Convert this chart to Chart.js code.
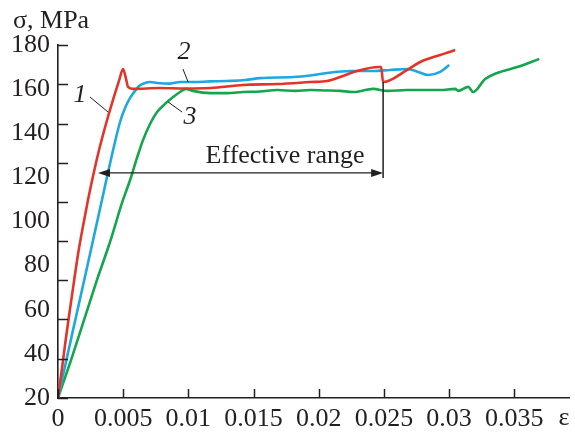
<!DOCTYPE html>
<html>
<head>
<meta charset="utf-8">
<script src="https://cdn.jsdelivr.net/npm/chart.js@4/dist/chart.umd.min.js"></script>
<style>
  html, body { margin: 0; padding: 0; background: #fff; }
  #wrap { width: 575px; height: 434px; position: relative; }
</style>
</head>
<body>
<div id="wrap"><canvas id="c" width="575" height="434"></canvas></div>
<script>
// ---- Data (strain ε, stress σ in MPa) ----
const curve1Strain = [0, 0.00031, 0.00061, 0.00092, 0.00123, 0.00154, 0.00192, 0.00230, 0.00269, 0.00315, 0.00368, 0.00422, 0.00468, 0.00499, 0.00522, 0.00537, 0.00576, 0.00783, 0.00975, 0.01167, 0.01420, 0.01681, 0.01934, 0.02065, 0.02164, 0.02295, 0.02456, 0.02479, 0.02494, 0.02679, 0.02778, 0.02932, 0.03047];
const curve1Stress = [20, 33.6, 47.2, 60.3, 73.0, 85.3, 98.0, 109.7, 120.6, 132.4, 144.2, 155.1, 163.7, 169.1, 164.6, 161.0, 160.1, 160.5, 160.3, 160.5, 161.9, 162.3, 163.2, 163.7, 165.5, 168.2, 170.0, 170.0, 163.2, 168.7, 172.3, 175.5, 177.7];

const curve2Strain = [0, 0.00107, 0.00215, 0.00322, 0.00430, 0.00476, 0.00514, 0.00553, 0.00591, 0.00622, 0.00668, 0.00706, 0.00760, 0.00860, 0.00936, 0.01036, 0.01167, 0.01297, 0.01435, 0.01550, 0.01804, 0.01934, 0.02065, 0.02241, 0.02418, 0.02548, 0.02679, 0.02763, 0.02840, 0.02932, 0.03001];
const curve2Stress = [20, 48.6, 77.1, 105.7, 134.2, 145.1, 151.4, 156.0, 159.2, 161.4, 162.8, 163.2, 162.8, 162.5, 163.2, 163.2, 163.5, 163.7, 164.1, 165.0, 165.5, 166.2, 167.3, 168.2, 168.2, 168.7, 169.1, 167.8, 166.4, 167.8, 170.9];

const curve3Strain = [0, 0.00100, 0.00200, 0.00299, 0.00399, 0.00491, 0.00553, 0.00606, 0.00652, 0.00706, 0.00760, 0.00821, 0.00883, 0.00936, 0.00982, 0.01036, 0.01167, 0.01297, 0.01420, 0.01550, 0.01681, 0.01819, 0.01934, 0.02049, 0.02164, 0.02264, 0.02418, 0.02525, 0.02679, 0.02932, 0.03047, 0.03070, 0.03147, 0.03185, 0.03277, 0.03369, 0.03523, 0.03692];
const curve3Stress = [20, 37.2, 55.4, 73.5, 90.7, 108.4, 118.8, 128.8, 136.9, 144.2, 149.6, 153.3, 156.4, 158.7, 160.1, 159.2, 158.2, 158.2, 158.7, 158.9, 159.6, 159.2, 159.6, 159.4, 159.2, 158.7, 160.1, 159.2, 159.6, 159.6, 160.1, 159.2, 161.0, 158.7, 164.6, 167.3, 170.0, 173.7];

// ---- Axis ticks ----
const xTicks = [0, 0.005, 0.01, 0.015, 0.02, 0.025, 0.03, 0.035];
const xTickLabels = ["0", "0.005", "0.01", "0.015", "0.02", "0.025", "0.03", "0.035"];
const yTicks = [20, 40, 60, 80, 100, 120, 140, 160, 180];
const yTickLabels = ["20", "40", "60", "80", "100", "120", "140", "160", "180"];
const yTickMarks = [20, 37.8, 55.6, 73.3, 91.1, 108.9, 126.7, 144.4, 162.2, 180];

// ---- Annotations (data units) ----
const rangeArrow = { from: 0.00307, to: 0.02494, stress: 122.0 };
const rangeLine = { strain: 0.02494, top: 163.2, bottom: 119.7 };
const rangeText = { text: "Effective range", strain: 0.01742, stress: 126.5 };
const curveLabels = [
  { text: "1", strain: 0.00169, stress: 157.3, lead: [[0.00246, 156.4], [0.00384, 149.6]] },
  { text: "2", strain: 0.00967, stress: 176.8, lead: [[0.00959, 169.1], [0.00998, 163.2]] },
  { text: "3", strain: 0.01013, stress: 147.4, lead: [[0.00844, 154.2], [0.00952, 149.6]] }
];

const toPts = (xs, ys) => xs.map((x, i) => ({ x: x, y: ys[i] }));

const SERIF = '"Liberation Serif", "Times New Roman", serif';
const FS = 26;
const INK = '#231f20';

const annotate = {
  id: 'annotate',
  afterDraw(chart) {
    const ctx = chart.ctx;
    const xs = chart.scales.x, ys = chart.scales.y;
    const ca = chart.chartArea;
    ctx.save();
    // inward tick marks
    ctx.strokeStyle = INK; ctx.lineWidth = 1.5;
    xTicks.forEach(v => {
      const px = Math.round(xs.getPixelForValue(v)) + 0.5;
      ctx.beginPath(); ctx.moveTo(px, ca.bottom); ctx.lineTo(px, ca.bottom - 9); ctx.stroke();
    });
    yTickMarks.forEach(v => {
      const py = Math.round(ys.getPixelForValue(v)) + 0.5;
      ctx.beginPath(); ctx.moveTo(ca.left, py); ctx.lineTo(ca.left + 10, py); ctx.stroke();
    });
    // axis titles
    ctx.fillStyle = INK;
    ctx.font = FS + 'px ' + SERIF;
    ctx.textAlign = 'left'; ctx.textBaseline = 'alphabetic';
    ctx.fillText('σ, MPa', 13, 28);
    ctx.textAlign = 'center';
    ctx.fillText('ε', 564, 425);
    // effective range arrow
    ctx.lineWidth = 1.2; ctx.strokeStyle = INK;
    const ay = ys.getPixelForValue(rangeArrow.stress);
    const ax1 = xs.getPixelForValue(rangeArrow.from), ax2 = xs.getPixelForValue(rangeArrow.to);
    ctx.beginPath(); ctx.moveTo(ax1 + 8, ay); ctx.lineTo(ax2 - 8, ay); ctx.stroke();
    ctx.beginPath(); ctx.moveTo(ax1, ay); ctx.lineTo(ax1 + 12, ay - 4); ctx.lineTo(ax1 + 12, ay + 4); ctx.closePath(); ctx.fill();
    ctx.beginPath(); ctx.moveTo(ax2, ay); ctx.lineTo(ax2 - 12, ay - 4); ctx.lineTo(ax2 - 12, ay + 4); ctx.closePath(); ctx.fill();
    const lx = xs.getPixelForValue(rangeLine.strain);
    ctx.lineWidth = 1.5;
    ctx.beginPath(); ctx.moveTo(lx, ys.getPixelForValue(rangeLine.top)); ctx.lineTo(lx, ys.getPixelForValue(rangeLine.bottom)); ctx.stroke();
    ctx.font = FS + 'px ' + SERIF;
    ctx.textAlign = 'center'; ctx.textBaseline = 'alphabetic';
    ctx.fillText(rangeText.text, xs.getPixelForValue(rangeText.strain), ys.getPixelForValue(rangeText.stress));
    // curve labels
    ctx.font = 'italic ' + FS + 'px ' + SERIF;
    ctx.textBaseline = 'middle';
    ctx.lineWidth = 1;
    curveLabels.forEach(l => {
      ctx.fillText(l.text, xs.getPixelForValue(l.strain), ys.getPixelForValue(l.stress));
      ctx.beginPath();
      ctx.moveTo(xs.getPixelForValue(l.lead[0][0]), ys.getPixelForValue(l.lead[0][1]));
      ctx.lineTo(xs.getPixelForValue(l.lead[1][0]), ys.getPixelForValue(l.lead[1][1]));
      ctx.stroke();
    });
    ctx.restore();
  }
};

const lineDs = (label, xs, ys, color) => ({
  label: label,
  data: toPts(xs, ys),
  borderColor: color,
  backgroundColor: color,
  borderWidth: 2.6,
  pointRadius: 0,
  showLine: true,
  fill: false,
  cubicInterpolationMode: 'monotone'
});

new Chart(document.getElementById('c'), {
  type: 'scatter',
  data: {
    datasets: [
      lineDs('1', curve1Strain, curve1Stress, '#e3342a'),
      lineDs('2', curve2Strain, curve2Stress, '#1da8e0'),
      lineDs('3', curve3Strain, curve3Stress, '#14a64c')
    ]
  },
  options: {
    responsive: false,
    animation: false,
    devicePixelRatio: 1,
    layout: { padding: { left: 0, right: 6, top: 45, bottom: 0 } },
    plugins: { legend: { display: false }, title: { display: false }, tooltip: { enabled: false } },
    scales: {
      x: {
        type: 'linear', min: 0, max: 0.0392,
        afterBuildTicks: s => { s.ticks = xTicks.map(v => ({ value: v })); },
        afterFit: s => { s.height = 36; },
        grid: { display: false, drawTicks: false },
        border: { display: true, color: INK, width: 1.6 },
        ticks: {
          padding: 6, color: INK, maxRotation: 0, autoSkip: false,
          font: { family: SERIF, size: FS },
          callback: (v) => { const i = xTicks.indexOf(v); return i >= 0 ? xTickLabels[i] : ''; }
        }
      },
      y: {
        type: 'linear', min: 20, max: 180,
        afterBuildTicks: s => { s.ticks = yTicks.map(v => ({ value: v })); },
        afterFit: s => { s.width = 58; },
        grid: { display: false, drawTicks: false },
        border: { display: true, color: INK, width: 1.6 },
        ticks: {
          padding: 8, color: INK, autoSkip: false,
          font: { family: SERIF, size: FS },
          callback: (v) => { const i = yTicks.indexOf(v); return i >= 0 ? yTickLabels[i] : ''; }
        }
      }
    }
  },
  plugins: [annotate]
});
</script>
</body>
</html>
